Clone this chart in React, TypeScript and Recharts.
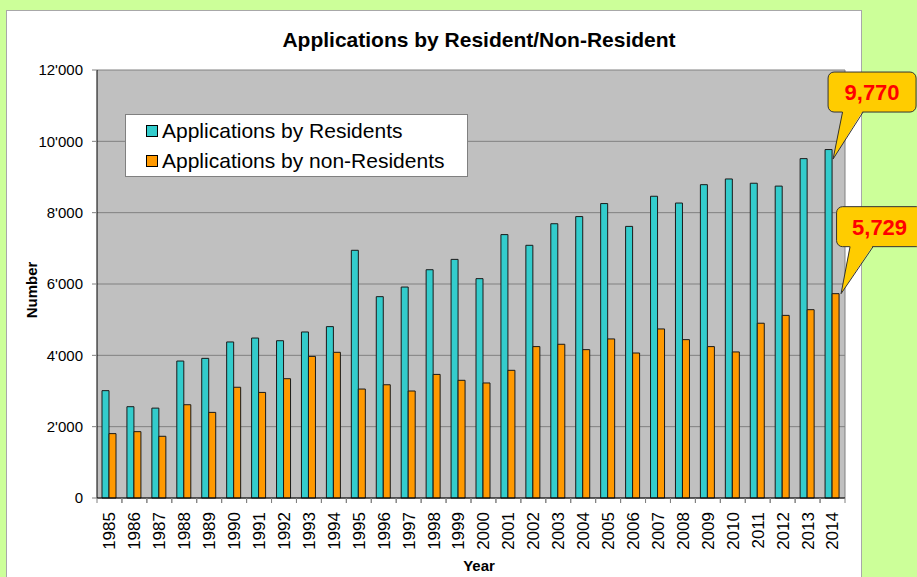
import React from 'react';
import { BarChart, Bar, XAxis, YAxis, CartesianGrid, LabelList } from 'recharts';

const years = ['1985','1986','1987','1988','1989','1990','1991','1992','1993','1994','1995','1996','1997','1998','1999','2000','2001','2002','2003','2004','2005','2006','2007','2008','2009','2010','2011','2012','2013','2014'];
const residents = [3010, 2560, 2520, 3840, 3915, 4375, 4485, 4410, 4655, 4805, 6945, 5645, 5915, 6400, 6690, 6150, 7385, 7085, 7690, 7890, 8255, 7615, 8460, 8270, 8785, 8945, 8825, 8745, 9515, 9770];
const nonResidents = [1805, 1860, 1730, 2615, 2400, 3105, 2960, 3345, 3970, 4085, 3055, 3175, 3000, 3465, 3300, 3225, 3580, 4245, 4310, 4160, 4460, 4065, 4740, 4440, 4245, 4095, 4900, 5120, 5280, 5729];
const yTicks = [0, 2000, 4000, 6000, 8000, 10000, 12000];
const seriesNames = ['Applications by Residents', 'Applications by non-Residents'];
const colors = ['#33CCCC', '#FF9900'];

const data = years.map((y, i) => ({ year: y, r: residents[i], nr: nonResidents[i] }));
const FONT = 'Arial, "Liberation Sans", sans-serif';

const fmtApos = (v: number) => String(v).replace(/\B(?=(\d{3})+(?!\d))/g, "'");
const fmtComma = (v: number) => String(v).replace(/\B(?=(\d{3})+(?!\d))/g, ',');

const XTick = (props: any) => {
  const { x, y, payload } = props;
  const half = payload && payload.offset ? payload.offset : 12.47;
  const axisY = y - 8;
  const ty = axisY + 14;
  return (
    <g>
      <line x1={x - half} x2={x - half} y1={axisY} y2={axisY + 5} stroke="#808080" />
      <line x1={x + half} x2={x + half} y1={axisY} y2={axisY + 5} stroke="#808080" />
      <text x={x} y={ty} transform={`rotate(-90, ${x}, ${ty})`} textAnchor="end" dy="0.35em"
        fontFamily={FONT} fontSize={17} fill="#000">{payload.value}</text>
    </g>
  );
};

const makeCallout = (cfg: { boxDx: number; boxDy: number; w: number; h: number; b1: number; b2: number; tipDx: number; tipDy: number }) => (props: any) => {
  const { x, y, width, value, index } = props;
  if (index !== years.length - 1) return null;
  const right = Number(x) + Number(width);
  const top = Number(y);
  const bx = right + cfg.boxDx;
  const by = top + cfg.boxDy;
  const bottom = by + cfg.h;
  const tipX = right + cfg.tipDx;
  const tipY = top + cfg.tipDy;
  return (
    <g>
      <rect x={bx} y={by} width={cfg.w} height={cfg.h} rx={6} ry={6} fill="#FFCC00" stroke="#333" strokeWidth={1} />
      <polygon points={`${right + cfg.b1},${bottom - 1.5} ${tipX},${tipY} ${right + cfg.b2},${bottom - 1.5}`} fill="#FFCC00" stroke="none" />
      <polyline points={`${right + cfg.b1},${bottom} ${tipX},${tipY} ${right + cfg.b2},${bottom}`} fill="none" stroke="#333" strokeWidth={1} />
      <text x={bx + cfg.w / 2} y={by + cfg.h / 2} dy="0.36em" textAnchor="middle" fontFamily={FONT}
        fontWeight="bold" fontSize={22} fill="#FF0000">{fmtComma(Number(value))}</text>
    </g>
  );
};

const calloutR = makeCallout({ boxDx: -4, boxDy: -77.5, w: 88, h: 40, b1: 10.5, b2: 31, tipDx: 1, tipDy: 9.5 });
const calloutNR = makeCallout({ boxDx: -2.5, boxDy: -87, w: 86, h: 40, b1: 11, b2: 34, tipDx: 2, tipDy: 0 });

const LegendBox = () => (
  <div style={{ position: 'absolute', left: 125, top: 114, width: 341, height: 61, background: '#fff', border: '1px solid #808080', fontFamily: FONT, fontSize: 21, color: '#000' }}>
    {seriesNames.map((n, i) => (
      <div key={n} style={{ display: 'flex', alignItems: 'center', height: 30, marginTop: i === 0 ? 1 : 0, paddingLeft: 20 }}>
        <span style={{ display: 'inline-block', width: 10, height: 10, background: colors[i], border: '1px solid #000', marginRight: 4 }} />
        <span style={{ lineHeight: '30px', whiteSpace: 'nowrap' }}>{n}</span>
      </div>
    ))}
  </div>
);

export default function App() {
  return (
    <div style={{ position: 'fixed', left: 0, top: 0, width: 917, height: 577, background: '#CCFF99', overflow: 'hidden' }}>
      <div style={{ position: 'absolute', left: 6, top: 10, width: 854, height: 620, background: '#fff', border: '1px solid #A8A8A8' }} />
      <div style={{ position: 'absolute', left: 0, top: 27, width: 958, textAlign: 'center', fontFamily: FONT, fontWeight: 'bold', fontSize: 21, lineHeight: '26px', color: '#000' }}>
        Applications by Resident/Non-Resident
      </div>
      <div style={{ position: 'absolute', left: 0, top: 0 }}>
        <BarChart width={917} height={577} data={data} margin={{ top: 70, right: 72, bottom: 0, left: 0 }} barGap={0} barSize={7}>
          <CartesianGrid fill="#C0C0C0" stroke="#808080" vertical={true}
            verticalCoordinatesGenerator={({ offset }: any) => [offset.left + offset.width]}
            horizontalValues={yTicks} />
          <XAxis dataKey="year" height={79} interval={0} tickLine={false} axisLine={{ stroke: '#000' }}
            tick={<XTick />}
            label={({ viewBox }: any) => (
              <text x={viewBox.x + viewBox.width / 2 + 8} y={viewBox.y + 73} textAnchor="middle" fontFamily={FONT} fontWeight="bold" fontSize={15} fill="#000">Year</text>
            )} />
          <YAxis width={97} domain={[0, 12000]} ticks={yTicks} interval={0} tickFormatter={fmtApos}
            axisLine={{ stroke: '#000' }} tickLine={{ stroke: '#808080' }} tickSize={5} tickMargin={9}
            tick={{ fontFamily: FONT, fontSize: 15, fill: '#000' }}
            label={({ viewBox }: any) => {
              const cx = viewBox.x + 37;
              const cy = viewBox.y + viewBox.height / 2 + 6;
              return (
                <text x={cx} y={cy} transform={`rotate(-90, ${cx}, ${cy})`} textAnchor="middle" fontFamily={FONT} fontWeight="bold" fontSize={15} fill="#000">Number</text>
              );
            }} />
          <Bar dataKey="r" name={seriesNames[0]} fill={colors[0]} stroke="#1a1a1a" strokeWidth={1} isAnimationActive={false}>
            <LabelList dataKey="r" content={calloutR} />
          </Bar>
          <Bar dataKey="nr" name={seriesNames[1]} fill={colors[1]} stroke="#1a1a1a" strokeWidth={1} isAnimationActive={false}>
            <LabelList dataKey="nr" content={calloutNR} />
          </Bar>
        </BarChart>
      </div>
      <LegendBox />
    </div>
  );
}
